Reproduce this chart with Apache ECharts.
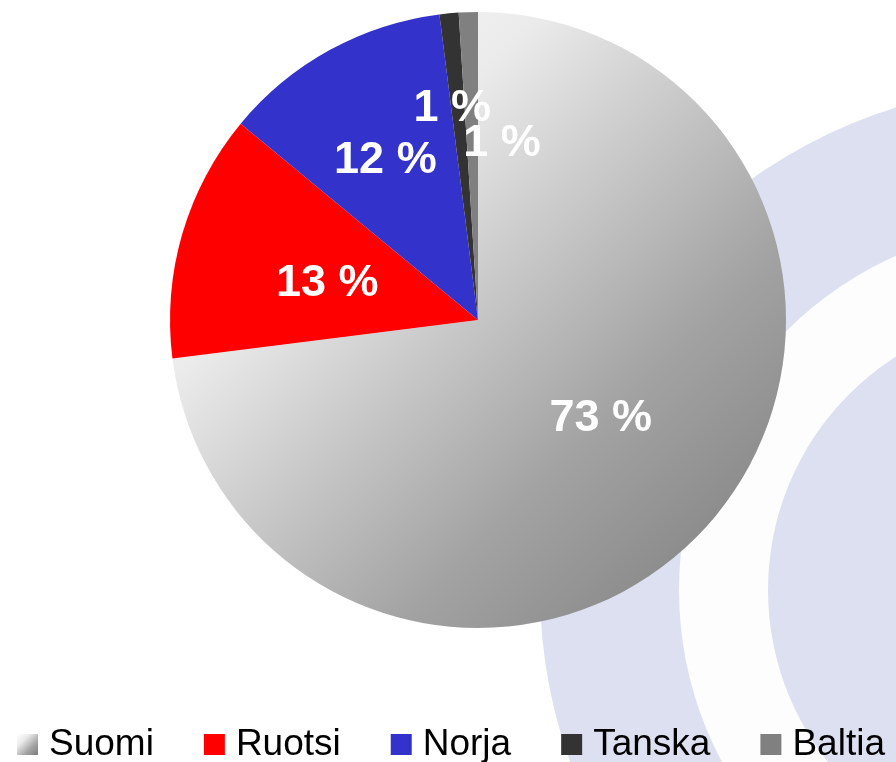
<!DOCTYPE html>
<html lang="fi">
<head>
    <meta charset="UTF-8">
    <title>Jakauma</title>
    <style>
        html, body { margin: 0; padding: 0; background: #ffffff; }
        #main { width: 896px; height: 762px; }
    </style>
</head>
<body>
<div id="main"></div>

<script src="https://cdn.jsdelivr.net/npm/echarts@6/dist/echarts.min.js"></script>
<script>
    // data
    var maat = ['Suomi', 'Ruotsi', 'Norja', 'Tanska', 'Baltia'];
    var osuudet = [73, 13, 12, 1, 1];
    var varit = ['#ffffff', '#ff0000', '#3333cc', '#333333', '#808080'];

    // label nudges (pixels) so the small slices' labels sit like in the original
    var labelDx = [5, 0, -17, -11, 29];
    var labelDy = [-5, 7, -22, -55, -19];

    var suomiGradient = new echarts.graphic.LinearGradient(0, 0, 1, 1, [
        { offset: 0, color: '#ffffff' },
        { offset: 0.3, color: '#ebebeb' },
        { offset: 0.68, color: '#a3a3a3' },
        { offset: 0.9, color: '#878787' },
        { offset: 1, color: '#7c7c7c' }
    ]);

    var pieData = [];
    for (var i = 0; i < maat.length; i++) {
        pieData.push({
            name: maat[i],
            value: osuudet[i],
            itemStyle: { color: i === 0 ? suomiGradient : varit[i] }
        });
    }

    var myChart = echarts.init(document.getElementById('main'), null, { renderer: 'canvas' });

    var option = {
        backgroundColor: '#ffffff',
        animation: false,
        // the pale rings in the background
        graphic: [
            { type: 'circle', shape: { cx: 1045, cy: 590, r: 505 }, style: { fill: '#dde0f1' }, z: -10, silent: true },
            { type: 'circle', shape: { cx: 1045, cy: 590, r: 366 }, style: { fill: '#fdfdfe' }, z: -10, silent: true },
            { type: 'circle', shape: { cx: 1045, cy: 590, r: 277 }, style: { fill: '#dde0f1' }, z: -10, silent: true }
        ],
        legend: {
            data: maat,
            top: 721,
            left: 12,
            width: 884,
            itemGap: 50,
            itemWidth: 21,
            itemHeight: 21,
            itemStyle: { borderWidth: 0 },
            icon: 'rect',
            textStyle: {
                fontSize: 37,
                color: '#000000',
                padding: [0, 0, 0, 6],
                fontFamily: 'Liberation Sans, Arial, sans-serif'
            }
        },
        series: [
            {
                type: 'pie',
                center: [478, 320],
                radius: 308,
                startAngle: 90,
                clockwise: true,
                avoidLabelOverlap: false,
                itemStyle: { borderWidth: 0 },
                emphasis: { disabled: true },
                label: {
                    show: true,
                    position: 'inside',
                    formatter: '{c} %',
                    color: '#ffffff',
                    fontSize: 45,
                    fontWeight: 'bold',
                    fontFamily: 'Liberation Sans, Arial, sans-serif'
                },
                labelLine: { show: false },
                labelLayout: function (params) {
                    return { dx: labelDx[params.dataIndex], dy: labelDy[params.dataIndex] };
                },
                data: pieData
            }
        ]
    };

    myChart.setOption(option);
</script>
</body>
</html>
